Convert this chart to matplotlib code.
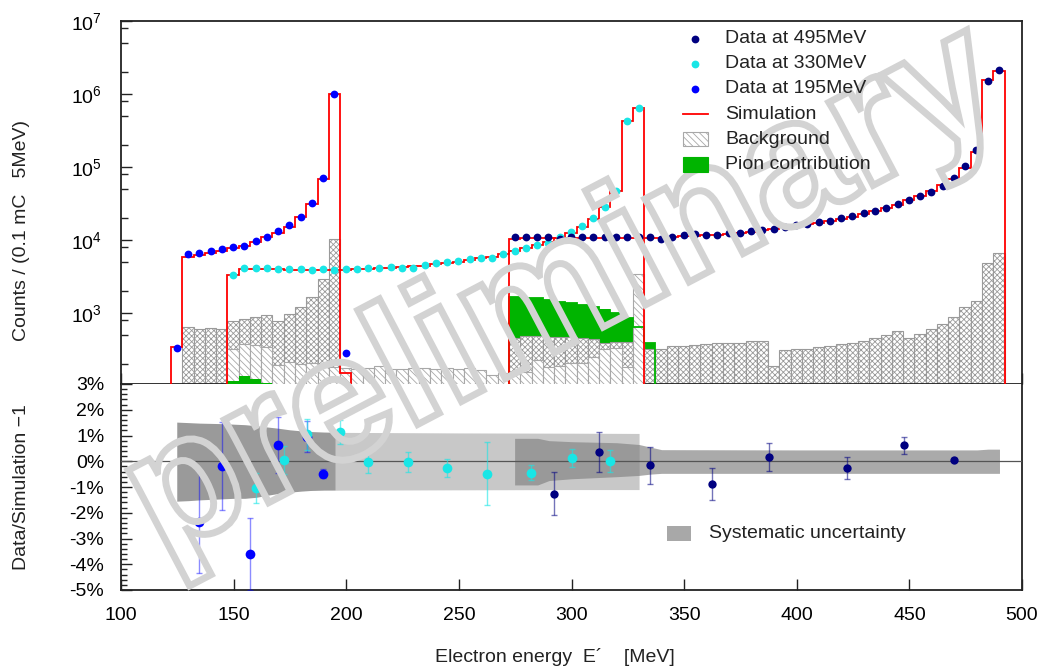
import numpy as np
import matplotlib
matplotlib.use("Agg")
import matplotlib.pyplot as plt
from matplotlib.patches import Rectangle, PathPatch
from matplotlib.lines import Line2D
from matplotlib.textpath import TextPath
from matplotlib.font_manager import FontProperties
from matplotlib.transforms import Affine2D
from matplotlib.ticker import LogLocator, FuncFormatter, MultipleLocator, NullFormatter

plt.rcParams['font.family'] = ['Liberation Sans', 'DejaVu Sans']
plt.rcParams['mathtext.fontset'] = 'custom'
plt.rcParams['mathtext.rm'] = 'Liberation Sans'
plt.rcParams['mathtext.it'] = 'Liberation Sans:italic'
plt.rcParams['hatch.linewidth'] = 0.6
plt.rcParams['hatch.color'] = '#8e8e8e'

# ---------------- data ----------------
bin_width = 5.0
start_195 = 122.25
start_330 = 147.25
start_495 = 272.25

data_195 = [335, 6430, 6700, 7130, 7450, 8010, 8270, 9600, 11100, 13150, 16000,
            20400, 31800, 71300, 990000, 283]
sim_195 = [340, 5850, 6300, 6580, 7130, 7690, 8270, 9480, 10900, 12700, 15200,
           20500, 31100, 67600, 1000000, 150]
bg_195 = [0, 637, 604, 630, 604, 776, 820, 870, 950, 776, 960, 1200, 1670, 2900,
          10500, 0]

data_330 = [3350, 4180, 4100, 4130, 4050, 3960, 3960, 3900, 3960, 3850,
            3960, 4000, 4130, 4180, 4300, 4200, 4100, 4550, 4900, 5010,
            5150, 5500, 5620, 5620, 6430, 7130, 7850, 8500, 9100, 10900,
            12900, 15400, 19800, 28000, 47300, 427000, 646000]
sim_330 = [3310, 4050, 4020, 3990, 3960, 3940, 3920, 3910, 3920, 3930,
           3950, 3980, 4030, 4100, 4180, 4260, 4350, 4480, 4650, 4850,
           5080, 5330, 5600, 5950, 6400, 7000, 7700, 8500, 9400, 10700,
           12600, 15300, 19600, 28500, 47000, 430000, 640000]
bg_330 = [321, 380, 365, 340, 194, 213, 198, 205, 184, 184,
          178, 170, 175, 188, 170, 170, 174, 176, 171, 174,
          169, 176, 167, 140, 149, 144, 157, 227, 184, 186,
          209, 209, 251, 321, 330, 184, 3400]
pion_330 = [118, 138, 126, 109]

data_495 = [10900, 10900, 10900, 10900, 10200, 10900, 10900, 10900, 10900, 10900,
            10900, 10900, 10900, 10300, 10900, 11700, 12000, 11600, 11700, 12500,
            12700, 13400, 13700, 14400, 15200, 15900, 16600, 17800, 18000, 20000,
            21300, 23200, 25000, 27700, 30800, 35300, 40100, 45900, 55400, 71300,
            104000, 170000, 1500000, 2100000]
sim_495 = [10300, 10700, 10800, 10800, 10800, 10800, 10800, 10800, 10800, 10800,
           10800, 10800, 10800, 10700, 10900, 11200, 11500, 11700, 11900, 12200,
           12600, 13100, 13600, 14200, 14900, 15600, 16400, 17300, 18300, 19600,
           21000, 22800, 24800, 27300, 30500, 35000, 40000, 46500, 56000, 68600,
           96000, 162000, 1550000, 2070000]
bg_495 = [459, 479, 490, 465, 465, 465, 450, 436, 390, 395,
          398, 400, 318, 325, 356, 356, 365, 376, 385, 390,
          390, 417, 417, 188, 308, 325, 325, 340, 350, 376,
          390, 417, 459, 494, 561, 454, 509, 597, 700, 871,
          1200, 1460, 4790, 6760]
pion_total_495 = [1670, 1620, 1590, 1510, 1430, 1360, 1290, 1200, 1120, 1010, 863, 650, 385]

# ratio panel
r195_x = [134.8, 144.7, 157.3, 169.8, 182.4, 189.8]
r195_y = [-2.36, -0.18, -3.60, 0.63, 0.95, -0.48]
r195_e = [1.97, 1.70, 1.40, 1.07, 0.60, 0.16]
r330_x = [159.8, 172.4, 182.4, 197.4, 209.8, 227.4, 244.9, 262.5, 282.2, 300.0, 317.3]
r330_y = [-1.04, 0.06, 1.05, 1.15, -0.04, -0.03, -0.26, -0.48, -0.44, 0.12, 0.00]
r330_e = [0.60, 0.55, 0.60, 0.47, 0.43, 0.39, 0.35, 1.22, 0.28, 0.35, 0.43]
r495_x = [292.4, 312.4, 334.8, 362.4, 387.5, 422.4, 447.5, 470.0]
r495_y = [-1.26, 0.36, -0.16, -0.89, 0.17, -0.26, 0.63, 0.06]
r495_e = [0.83, 0.77, 0.73, 0.63, 0.54, 0.44, 0.33, 0.05]

band195_x = [124.75, 130, 135, 140, 145, 150, 155, 160, 165, 170, 175, 180, 185, 190, 195]
band195_hi = [1.52, 1.50, 1.48, 1.47, 1.46, 1.44, 1.42, 1.38, 1.33, 1.28, 1.22, 1.18, 1.15, 1.13, 1.12]
band195_lo = [-1.55, -1.53, -1.50, -1.48, -1.46, -1.44, -1.44, -1.40, -1.32, -1.25, -1.20, -1.16, -1.13, -1.11, -1.11]
band330_x = [147.25, 175, 200, 250, 300, 330]
band330_hi = [1.15, 1.14, 1.12, 1.10, 1.09, 1.08]
band330_lo = [-1.15, -1.14, -1.12, -1.11, -1.10, -1.10]
band495_x = [274.75, 285, 290, 300, 320, 330, 335, 340, 400, 480, 485, 490]
band495_hi = [0.89, 0.89, 0.80, 0.76, 0.72, 0.65, 0.55, 0.45, 0.44, 0.44, 0.47, 0.47]
band495_lo = [-0.92, -0.92, -0.75, -0.68, -0.60, -0.55, -0.50, -0.47, -0.47, -0.47, -0.47, -0.47]

legend_labels = ["Data at 495MeV", "Data at 330MeV", "Data at 195MeV",
                 "Simulation", "Background", "Pion contribution"]
watermark = "preliminary"

# ---------------- styles ----------------
C495 = '#000080'
C330 = '#19e6e6'
C195 = '#0000ff'
RED = '#ff0000'
GREEN = '#00b400'
W, H = 1047, 671

def edges(start, n):
    return start + bin_width * np.arange(n + 1)

fig = plt.figure(figsize=(W / 100, H / 100), dpi=100)
ax1 = fig.add_axes([121 / W, 1 - 384 / H, 901 / W, 363 / H])
ax2 = fig.add_axes([121 / W, 1 - 590 / H, 901 / W, 206 / H])

# ---------------- top panel ----------------
e195 = edges(start_195, len(data_195))
e330 = edges(start_330, len(data_330))
e495 = edges(start_495, len(data_495))

def hbars(ax, e, vals, **kw):
    vals = np.asarray(vals, float)
    m = vals > 0
    ax.bar(e[:-1][m], vals[m], width=bin_width, align='edge', bottom=1, **kw)

hbars(ax1, e495[:len(pion_total_495) + 1], pion_total_495, color=GREEN, lw=0, zorder=1)
hbars(ax1, e495, bg_495, facecolor='white', edgecolor='#9a9a9a', hatch='xxxxxx', lw=0.8, zorder=2)
hbars(ax1, e195, bg_195, facecolor='white', edgecolor='#9a9a9a', hatch='xxxxxx', lw=0.8, zorder=2)
hbars(ax1, e330, bg_330, facecolor='white', edgecolor='#a8a8a8', hatch='\\\\\\\\\\', lw=0.8, zorder=3)
hbars(ax1, e330[:len(pion_330) + 1], pion_330, color=GREEN, lw=0, zorder=3.5)
ax1.stairs(pion_total_495, e495[:len(pion_total_495) + 1], baseline=1, color=GREEN, lw=1.3, zorder=4)

for e, s in ((e195, sim_195), (e330, sim_330), (e495, sim_495)):
    ax1.stairs(s, e, baseline=1, color=RED, lw=1.3, zorder=5)

for e, d, c in ((e195, data_195, C195), (e330, data_330, C330), (e495, data_495, C495)):
    ax1.plot(e[:-1] + bin_width / 2, d, 'o', color=c, ms=5.6, mew=0, zorder=6)

ax1.set_yscale('log')
ax1.set_xlim(100, 500)
ax1.set_ylim(107, 1e7)
ax1.yaxis.set_major_locator(LogLocator(base=10, numticks=10))
ax1.yaxis.set_minor_locator(LogLocator(base=10, subs=[2, 5, 8], numticks=10))
ax1.yaxis.set_major_formatter(FuncFormatter(
    lambda v, p: r'$10^{%d}$' % round(np.log10(v)) if v >= 999 else ''))
ax1.yaxis.set_minor_formatter(NullFormatter())
ax1.xaxis.set_major_locator(MultipleLocator(50))
ax1.tick_params(axis='both', which='both', direction='in', top=False, right=False,
                labelbottom=False, labelsize=14, width=1.0, color='#222')
ax1.tick_params(axis='y', which='major', length=8, pad=14)
ax1.tick_params(axis='y', which='minor', length=5)
ax1.tick_params(axis='x', which='major', length=8)
for sp in ax1.spines.values():
    sp.set_linewidth(1.3)
    sp.set_color('#222')

# ---------------- ratio panel ----------------
ax2.fill_between(band330_x, band330_lo, band330_hi, color='#c8c8c8', lw=0, zorder=1)
ax2.fill_between(band195_x, band195_lo, band195_hi, color='#9a9a9a', lw=0, zorder=2)
ax2.fill_between(band495_x, band495_lo, band495_hi, color='#848484', alpha=0.69, lw=0, zorder=3)
ax2.axhline(0, color='#555555', lw=0.9, zorder=4)

for x, y, e, c, ms, a in ((r195_x, r195_y, r195_e, C195, 7.0, 0.45),
                           (r330_x, r330_y, r330_e, C330, 7.0, 0.6),
                           (r495_x, r495_y, r495_e, C495, 6.0, 0.55)):
    ax2.errorbar(x, y, yerr=e, fmt='none', ecolor=c, elinewidth=1.0, capsize=2.5,
                 capthick=1.0, alpha=a, zorder=5)
    ax2.plot(x, y, 'o', color=c, ms=ms, mew=0, zorder=6)

ax2.set_xlim(100, 500)
ax2.set_ylim(-5, 3)
ax2.yaxis.set_major_locator(MultipleLocator(1))
ax2.yaxis.set_minor_locator(MultipleLocator(0.2))
ax2.yaxis.set_major_formatter(FuncFormatter(lambda v, p: f"{int(round(v))}%"))
ax2.xaxis.set_major_locator(MultipleLocator(50))
ax2.xaxis.set_major_formatter(FuncFormatter(lambda v, p: f"{int(v)}"))
ax2.tick_params(axis='both', which='both', direction='in', top=False, right=False,
                labelsize=14, width=1.0, color='#222')
ax2.tick_params(axis='y', which='major', length=8, pad=12)
ax2.tick_params(axis='y', which='minor', length=4)
ax2.tick_params(axis='x', which='major', length=8, pad=12)
for sp in ax2.spines.values():
    sp.set_linewidth(1.3)
    sp.set_color('#222')
ax2.spines['top'].set_visible(False)

# ---------------- watermark (hollow outlined text) ----------------
wm_prop = FontProperties(family='Liberation Sans', weight='bold')
theta = 27.7
span = 947.0
w0 = TextPath((0, 0), watermark, size=100, prop=wm_prop).get_extents().width
S = 100 * span / w0
tp = TextPath((0, 0), watermark, size=S, prop=wm_prop)
ext = tp.get_extents()
xh = 0.53 * S
t = np.radians(theta)
bx = 128 + xh * np.sin(t)
by = 470 + xh * np.cos(t)
tr = (Affine2D().translate(-ext.x0, 0).rotate_deg(theta).translate(bx, H - by)
      .scale(1 / W, 1 / H) + fig.transFigure)
wm = PathPatch(tp, facecolor='none', edgecolor='#d3d3d3', lw=5.0, transform=tr, zorder=1)
fig.add_artist(wm)

# ---------------- axis labels ----------------
fig.text(22 / W, 1 - 230 / H, "Counts / (0.1 mC   5MeV)", rotation=90,
         ha='center', va='center', fontsize=14, color='#222', zorder=3)
fig.text(22 / W, 1 - 487 / H, "Data/Simulation \u22121", rotation=90,
         ha='center', va='center', fontsize=14, color='#222', zorder=3)
fig.text(555 / W, 1 - 657 / H, "Electron energy  E\u00b4    [MeV]",
         ha='center', va='center', fontsize=14, color='#222', zorder=3)

# ---------------- legends ----------------
def fx(px):
    return px / W

def fy(py):
    return 1 - py / H

row0, pitch = 38.5, 25.2
marker_cols = [C495, C330, C195]
for i, lab in enumerate(legend_labels):
    yy = row0 + pitch * i
    if i < 3:
        fig.add_artist(Line2D([fx(695)], [fy(yy)], marker='o', ls='', color=marker_cols[i],
                              ms=5.6, mew=0, transform=fig.transFigure, zorder=3))
    elif i == 3:
        fig.add_artist(Line2D([fx(683), fx(708)], [fy(yy), fy(yy)], color=RED, lw=1.3,
                              transform=fig.transFigure, zorder=3))
    elif i == 4:
        fig.add_artist(Rectangle((fx(683), fy(yy + 7)), fx(25), 14 / H, facecolor='white',
                                 edgecolor='#a8a8a8', hatch='\\\\\\\\\\', lw=0.8,
                                 transform=fig.transFigure, zorder=3))
    else:
        fig.add_artist(Rectangle((fx(683), fy(yy + 7)), fx(25), 14 / H, facecolor=GREEN,
                                 edgecolor=GREEN, lw=0.8, transform=fig.transFigure, zorder=3))
    fig.text(fx(725), fy(yy), lab, ha='left', va='center', fontsize=14, color='#222', zorder=3)

fig.add_artist(Rectangle((fx(667), fy(541)), fx(24), 15 / H, facecolor='#a8a8a8',
                         edgecolor='none', transform=fig.transFigure, zorder=3))
fig.text(fx(709), fy(533), "Systematic uncertainty", ha='left', va='center',
         fontsize=14, color='#222', zorder=3)

fig.savefig("out.png", dpi=100)
